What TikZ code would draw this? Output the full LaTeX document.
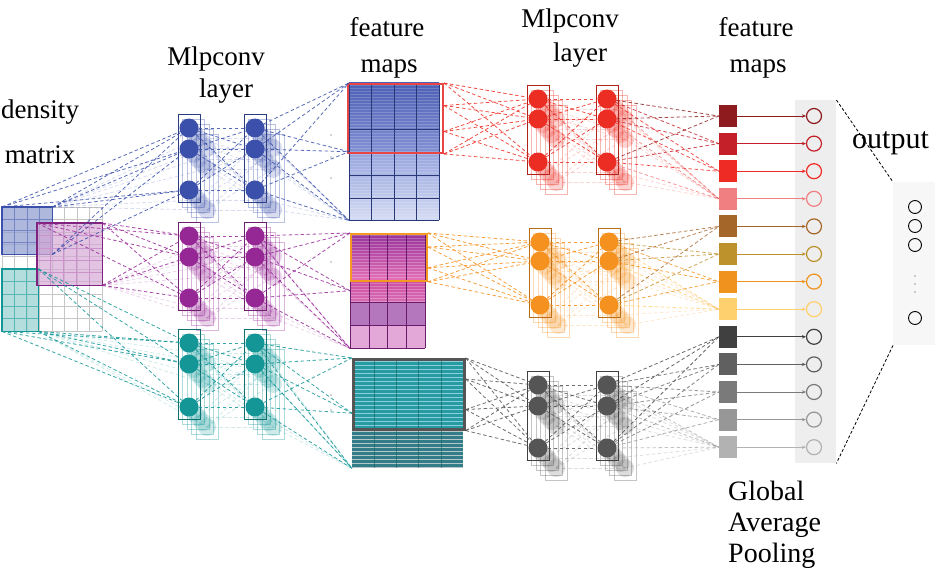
\documentclass[tikz,border=0pt]{standalone}
\usepackage{fontspec}
\setmainfont{Liberation Serif}
\newfontfamily\lblserif{Liberation Serif}
\usetikzlibrary{arrows.meta}
\definecolor{cblue}{RGB}{58,80,170}
\definecolor{cpurple}{RGB}{150,40,150}
\definecolor{cteal}{RGB}{20,150,150}
\definecolor{cred}{RGB}{235,45,35}
\definecolor{corange}{RGB}{245,145,30}
\definecolor{cgray}{RGB}{85,85,85}
\definecolor{sq1}{HTML}{8E1B1E}
\definecolor{sq2}{HTML}{C4202A}
\definecolor{sq3}{HTML}{EE2B25}
\definecolor{sq4}{HTML}{F07F82}
\definecolor{sq5}{HTML}{A5662A}
\definecolor{sq6}{HTML}{BD912B}
\definecolor{sq7}{HTML}{F0921E}
\definecolor{sq8}{HTML}{FFD06E}
\definecolor{sq9}{HTML}{404040}
\definecolor{sq10}{HTML}{606060}
\definecolor{sq11}{HTML}{7A7A7A}
\definecolor{sq12}{HTML}{979797}
\definecolor{sq13}{HTML}{B2B2B2}
\definecolor{redframe}{HTML}{E84545}
\definecolor{orframe}{HTML}{F59A20}
\tikzset{
  neuron/.style={circle, inner sep=0pt, minimum size=19pt},
  dl/.style={dash pattern=on 3.5pt off 2.5pt, line width=0.8pt},
  lbl/.style={font=\lblserif\fontsize{27}{30}\selectfont, inner sep=0pt, anchor=base},
  gapsq/.style={minimum width=18pt, minimum height=22pt, inner sep=0pt},
  onode/.style={circle, inner sep=0pt, minimum size=15pt, line width=1.2pt},
  outc/.style={circle, draw=black, inner sep=0pt, minimum size=13pt, line width=0.9pt},
  blk/.style={inner sep=0pt, anchor=north west}
}
% #1 name, #2 x, #3 y1, #4 y2, #5 y3, #6 color
\newcommand{\mlpcol}[6]{%
  \foreach \k in {4,3,2,1}{%
    \draw[#6, opacity=0.35, line width=0.5pt] ({#2-11+4.5*\k},{#3-14+5*\k}) rectangle ({#2+11+4.5*\k},{#5+12+5*\k});
    \foreach \yy [count=\n] in {#3,#4,#5}{%
      \fill[#6, opacity=0.2] ({#2+4.5*\k},{\yy+5*\k}) circle (9pt);
      \coordinate (#1-\n-\k) at ({#2+4.5*\k},{\yy+5*\k});
    }%
  }%
  \draw[#6!75!black, line width=0.9pt] ({#2-11},{#3-14}) rectangle ({#2+11},{#5+12});
  \foreach \yy [count=\n] in {#3,#4,#5}{\node[neuron, fill=#6] (#1-\n) at (#2,\yy) {};}%
}
\newcommand{\fullconn}[3]{%
  \foreach \i in {1,2,3}{\foreach \j in {1,2,3}{\draw[dl,#3,opacity=0.85] (#1-\i) -- (#2-\j);}}%
  \foreach \k in {2,4}{\foreach \i in {1,2,3}{\foreach \j in {1,2,3}{\draw[dl,#3,opacity=0.2] (#1-\i-\k) -- (#2-\j-\k);}}}%
}
\begin{document}
\begin{tikzpicture}[x=1pt,y=-1pt]
\useasboundingbox (0,0) rectangle (935,578);

% ---------- labels ----------
\node[lbl] (t1) at (40,118) {density};
\node[lbl] (t2) at (40,163) {matrix};
\node[lbl] (t3) at (216,66) {Mlpconv};
\node[lbl] (t4) at (226,98) {layer};
\node[lbl] (t5) at (387,37) {feature};
\node[lbl] (t6) at (389,73) {maps};
\node[lbl] (t7) at (570,28) {Mlpconv};
\node[lbl] (t8) at (580,62) {layer};
\node[lbl] (t9) at (756,37) {feature};
\node[lbl] (t10) at (758,73) {maps};
\node[lbl, font=\lblserif\fontsize{30}{33}\selectfont, anchor=base west] (t11) at (852,148) {output};
\node[lbl, font=\lblserif\fontsize{28}{31}\selectfont, anchor=base west] (t12) at (728,500) {Global};
\node[lbl, font=\lblserif\fontsize{28}{31}\selectfont, anchor=base west] (t13) at (728,531) {Average};
\node[lbl, font=\lblserif\fontsize{28}{31}\selectfont, anchor=base west] (t14) at (728,562) {Pooling};

% ---------- density matrix ----------
\foreach \i in {0,...,8} \draw[gray!45, line width=0.4pt] ({2+12.5*\i},207) -- ({2+12.5*\i},331);
\foreach \i in {0,...,10} \draw[gray!45, line width=0.4pt] (2,{207+12.4*\i}) -- (102,{207+12.4*\i});
\node[blk, fill=cblue!55, fill opacity=0.75, minimum width=50pt, minimum height=47pt] (bsq) at (2,207) {};
\foreach \i in {1,2,3} \draw[cblue!70, line width=0.4pt] ({2+12.5*\i},207) -- ({2+12.5*\i},254);
\foreach \i in {1,2,3} \draw[cblue!70, line width=0.4pt] (2,{207+11.75*\i}) -- (52,{207+11.75*\i});
\draw[cblue, line width=1.2pt] (bsq.north west) rectangle (bsq.south east);
\node[blk, fill=cteal!40, fill opacity=0.8, minimum width=36pt, minimum height=62pt] (tsq) at (2,269) {};
\foreach \i in {1,2} \draw[cteal!70, line width=0.4pt] ({2+12*\i},269) -- ({2+12*\i},331);
\foreach \i in {1,...,4} \draw[cteal!70, line width=0.4pt] (2,{269+12.4*\i}) -- (38,{269+12.4*\i});
\draw[cteal, line width=1.2pt] (tsq.north west) rectangle (tsq.south east);
\node[blk, fill=cpurple!40, fill opacity=0.7, minimum width=65pt, minimum height=62pt] (psq) at (37,223) {};
\foreach \i in {1,...,4} \draw[cpurple!50, line width=0.4pt] ({37+13*\i},223) -- ({37+13*\i},285);
\foreach \i in {1,...,4} \draw[cpurple!50, line width=0.4pt] (37,{223+12.4*\i}) -- (102,{223+12.4*\i});
\draw[cpurple!85!black, line width=1.2pt] (psq.north west) rectangle (psq.south east);

% ---------- first mlpconv layer ----------
\mlpcol{bA}{189}{128}{149}{190}{cblue}
\mlpcol{bB}{255}{128}{149}{190}{cblue}
\mlpcol{pA}{189}{236}{257}{298}{cpurple}
\mlpcol{pB}{255}{236}{257}{298}{cpurple}
\mlpcol{tA}{189}{343}{364}{407}{cteal}
\mlpcol{tB}{255}{343}{364}{407}{cteal}

\foreach \p in {north west, north east, south east}{\foreach \i in {1,2,3}{\draw[dl,cblue,opacity=0.85] (bsq.\p) -- (bA-\i);}}
\foreach \p in {north west, north east, south east}{\foreach \i in {1,2,3}{\draw[dl,cpurple,opacity=0.85] (psq.\p) -- (pA-\i);}}
\foreach \p in {north east, south east, south west}{\foreach \i in {1,2,3}{\draw[dl,cteal,opacity=0.85] (tsq.\p) -- (tA-\i);}}
\foreach \k in {2,4}{\foreach \i in {1,2,3}{%
  \draw[dl,cblue,opacity=0.2] (bsq.north east) -- (bA-\i-\k);
  \draw[dl,cpurple,opacity=0.2] (psq.south east) -- (pA-\i-\k);
  \draw[dl,cteal,opacity=0.2] (tsq.south east) -- (tA-\i-\k);}}
\fullconn{bA}{bB}{cblue}
\fullconn{pA}{pB}{cpurple}
\fullconn{tA}{tB}{cteal}

% ---------- first feature maps ----------
% blue
\shade[top color={rgb,255:red,78;green,96;blue,182}, bottom color={rgb,255:red,130;green,145;blue,212}] (349,83) rectangle (439,152);
\shade[top color={rgb,255:red,150;green,165;blue,222}, bottom color={rgb,255:red,212;green,219;blue,243}] (349,152) rectangle (439,220);
\foreach \i in {0,...,44} \draw[white, opacity=0.18, line width=0.5pt] (349,{85+3*\i}) -- (439,{85+3*\i});
\foreach \i in {0,...,4} \draw[cblue!70!black, line width=0.6pt] ({349+22.5*\i},83) -- ({349+22.5*\i},220);
\foreach \yy in {129,152,175,198,220} \draw[cblue!70!black, line width=0.6pt] (349,\yy) -- (439,\yy);
\node[blk, minimum width=90pt, minimum height=137pt] (fb1) at (349,83) {};
\node[blk, draw=redframe, line width=2pt, minimum width=95pt, minimum height=69pt] (fm1) at (347,83) {};
% purple
\shade[top color={rgb,255:red,150;green,50;blue,155}, bottom color={rgb,255:red,228;green,112;blue,182}] (350,233) rectangle (425,280);
\shade[top color={rgb,255:red,205;green,75;blue,160}, bottom color={rgb,255:red,215;green,110;blue,180}] (350,280) rectangle (425,302);
\fill[fill={rgb,255:red,180;green,118;blue,188}] (350,302) rectangle (425,325);
\fill[fill={rgb,255:red,228;green,168;blue,216}] (350,325) rectangle (425,348);
\foreach \i in {0,...,22} \draw[white, opacity=0.25, line width=0.5pt] (350,{235+3*\i}) -- (425,{235+3*\i});
\foreach \i in {0,...,4} \draw[cpurple!70!black, line width=0.5pt] ({350+18.75*\i},233) -- ({350+18.75*\i},348);
\foreach \yy in {280,302,325,348} \draw[cpurple!70!black, line width=0.5pt] (350,\yy) -- (425,\yy);
\node[blk, minimum width=75pt, minimum height=115pt] (fb2) at (350,233) {};
\node[blk, draw=orframe, line width=1.8pt, minimum width=76pt, minimum height=47pt] (fm2) at (350,233) {};
% teal
\fill[fill={rgb,255:red,40;green,155;blue,160}] (352,358) rectangle (463,428);
\fill[fill={rgb,255:red,50;green,125;blue,135}] (352,428) rectangle (463,468);
\foreach \i in {0,...,17} \draw[cyan!30, opacity=0.7, line width=0.7pt] (352,{361+4*\i}) -- (463,{361+4*\i});
\foreach \i in {0,...,9} \draw[gray!30, opacity=0.8, line width=0.8pt] (352,{431+4*\i}) -- (463,{431+4*\i});
\foreach \i in {1,...,4} \draw[cteal!60!black, opacity=0.5, line width=0.4pt] ({352+22.2*\i},358) -- ({352+22.2*\i},468);
\node[blk, minimum width=111pt, minimum height=110pt] (fb3) at (352,358) {};
\node[blk, draw=cgray, line width=2.6pt, minimum width=111pt, minimum height=70pt] (fm3) at (352,358) {};
% stacked map hints
\foreach \yy in {135,157,178,262,285,395,410} \fill[gray!70] (331,\yy) circle (0.9pt);

\foreach \p in {north west, west, south west}{\foreach \i in {1,2,3}{%
  \draw[dl,cblue,opacity=0.85] (bB-\i) -- (fb1.\p);
  \draw[dl,cpurple,opacity=0.85] (pB-\i) -- (fb2.\p);
  \draw[dl,cteal,opacity=0.85] (tB-\i) -- (fb3.\p);}}
\foreach \k in {2,4}{\foreach \i in {1,2,3}{%
  \draw[dl,cblue,opacity=0.2] (bB-\i-\k) -- (fb1.south west);
  \draw[dl,cpurple,opacity=0.2] (pB-\i-\k) -- (fb2.south west);
  \draw[dl,cteal,opacity=0.2] (tB-\i-\k) -- (fb3.south west);}}

% ---------- second mlpconv layer ----------
\mlpcol{rA}{538}{99}{119}{162}{cred}
\mlpcol{rB}{607}{99}{119}{162}{cred}
\mlpcol{oA}{540}{242}{261}{305}{corange}
\mlpcol{oB}{609}{242}{261}{305}{corange}
\mlpcol{gA}{538}{385}{406}{448}{cgray}
\mlpcol{gB}{607}{385}{406}{448}{cgray}

\foreach \a in {north east, 15, -15, south east}{\foreach \i in {1,2,3}{%
  \draw[dl,cred,opacity=0.85] (fm1.\a) -- (rA-\i);
  \draw[dl,corange,opacity=0.85] (fm2.\a) -- (oA-\i);
  \draw[dl,cgray,opacity=0.85] (fm3.\a) -- (gA-\i);}}
\fullconn{rA}{rB}{cred}
\fullconn{oA}{oB}{corange}
\fullconn{gA}{gB}{cgray}

% ---------- global average pooling ----------
\node[blk, fill=gray!13, minimum width=41pt, minimum height=363pt] (gp) at (795,100) {};
\foreach \i in {1,...,13}{%
  \node[gapsq, fill=sq\i] (s\i) at (728,{116+27.6*(\i-1)}) {};
  \node[onode, draw=sq\i] (o\i) at (814,{116+27.6*(\i-1)}) {};
  \draw[sq\i, line width=0.8pt, -{Stealth[length=4pt,width=3.5pt]}] (s\i) -- (o\i);
}
\foreach \i in {1,2,3}{%
  \foreach \s in {1,...,4}{\draw[dl,sq\s,opacity=0.8] (rB-\i) -- (s\s.west);}
  \foreach \s in {5,...,8}{\draw[dl,sq\s,opacity=0.8] (oB-\i) -- (s\s.west);}
  \foreach \s in {9,...,13}{\draw[dl,sq\s,opacity=0.8] (gB-\i) -- (s\s.west);}
}
\foreach \k in {2,4}{\foreach \i in {1,2,3}{%
  \draw[dl,cred,opacity=0.2] (rB-\i-\k) -- (s4.west);
  \draw[dl,corange,opacity=0.2] (oB-\i-\k) -- (s8.west);
  \draw[dl,cgray,opacity=0.2] (gB-\i-\k) -- (s13.west);}}

% ---------- output ----------
\node[blk, fill=gray!6, minimum width=42pt, minimum height=163pt] (op) at (893,182) {};
\node[outc] (y1) at (915,207) {};
\node[outc] (y2) at (915,226) {};
\node[outc] (y3) at (915,245) {};
\node[outc] (y4) at (915,318) {};
\foreach \yy in {276,284,292} \fill[gray!80] (915,\yy) circle (0.8pt);
\draw[black, dash pattern=on 3pt off 2pt, line width=0.8pt] (gp.north east) -- (op.north west);
\draw[black, dash pattern=on 3pt off 2pt, line width=0.8pt] (op.south west) -- (gp.south east);
\end{tikzpicture}
\end{document}
